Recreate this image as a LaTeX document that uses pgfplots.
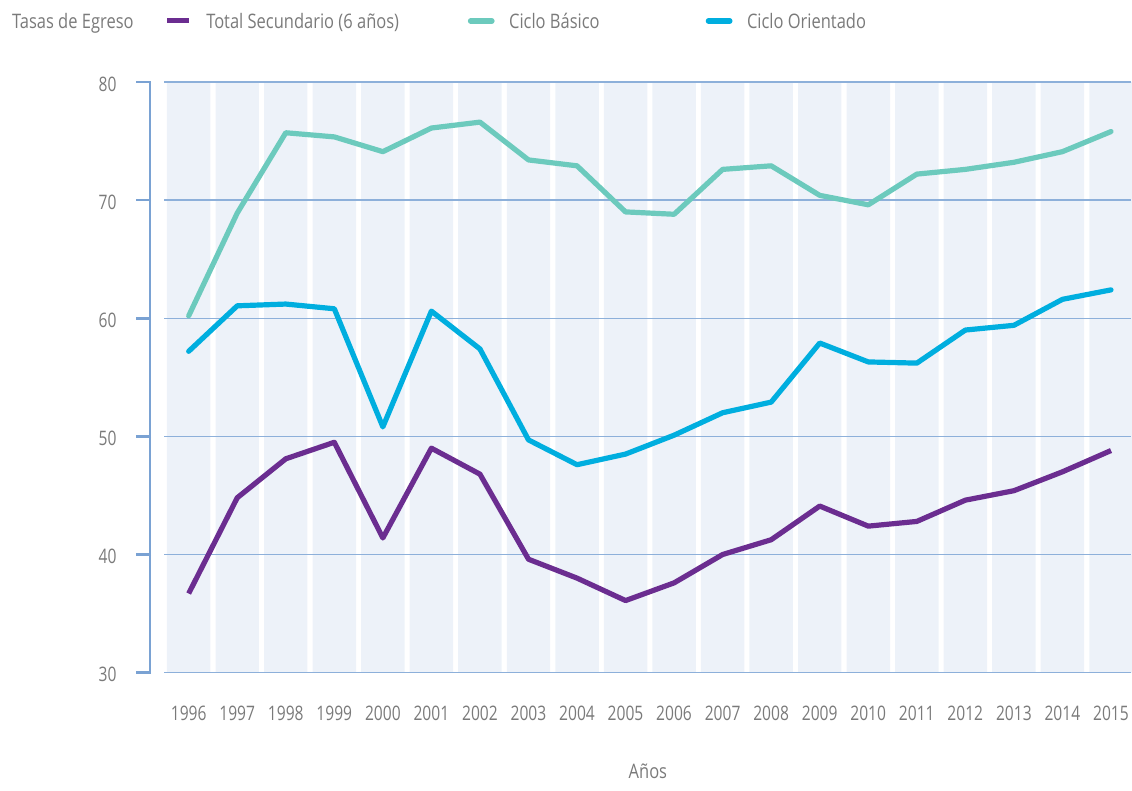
\documentclass[border=0pt]{standalone}
\usepackage{fontspec}
\setmainfont{Open Sans}[FakeStretch=0.78]
\newfontfamily\lfont{Open Sans}[FakeStretch=0.825]
\usepackage{pgfplots}
\usepackage{pgfplotstable}
\pgfplotsset{compat=1.18}
\definecolor{cpurple}{HTML}{6B2D90}
\definecolor{cteal}{HTML}{6CCABD}
\definecolor{cblue}{HTML}{00AEDF}
\definecolor{cbg}{HTML}{EDF2F9}
\definecolor{cgrid}{HTML}{8DB0DA}
\definecolor{caxis}{HTML}{7AA2D3}
\definecolor{ctext}{HTML}{7A7A7A}
\pgfplotstableread{
year tot bas ori
1996 36.7 60.2 57.2
1997 44.8 68.9 61.05
1998 48.1 75.7 61.2
1999 49.5 75.35 60.8
2000 41.4 74.1 50.8
2001 49.0 76.1 60.6
2002 46.8 76.6 57.4
2003 39.6 73.4 49.7
2004 38.0 72.9 47.6
2005 36.1 69.0 48.5
2006 37.6 68.8 50.1
2007 40.0 72.6 52.0
2008 41.25 72.9 52.9
2009 44.1 70.4 57.9
2010 42.4 69.6 56.3
2011 42.8 72.2 56.2
2012 44.6 72.6 59.0
2013 45.4 73.2 59.4
2014 47.0 74.1 61.6
2015 48.8 75.8 62.4
}\datatable
\begin{document}
\begin{tikzpicture}[font=\fontsize{10}{12}\selectfont, text=ctext]
\path (-82.25pt,-59pt) rectangle (483.75pt,336.5pt);
\begin{axis}[
  set layers=standard,
  scale only axis, width=483.75pt, height=295.5pt,
  xmin=1995.5, xmax=2015.42, ymin=30, ymax=80,
  axis line style={draw=none},
  major tick length=0pt,
  xtick={1996,...,2015}, ytick={30,40,...,80},
  ymajorgrids, grid style={cgrid, line width=0.6pt},
  xticklabel={\pgfmathprintnumber[assume math mode=true, 1000 sep={}]{\tick}},
  yticklabel={\pgfmathprintnumber[assume math mode=true]{\tick}},
  xticklabel style={anchor=base, yshift=-24pt, inner sep=0pt, text=ctext},
  yticklabel style={anchor=east, xshift=-23.75pt, yshift=-1pt, inner sep=0pt, text=ctext},
  xlabel={\lfont Años},
  xlabel style={at={(axis description cs:0.5,0)}, anchor=base, yshift=-53pt, inner sep=0pt, text=ctext},
]
\addplot[ybar, bar width=0.895, fill=cbg, draw=none, on layer=axis background] coordinates {
(1996,80) (1997,80) (1998,80) (1999,80) (2000,80) (2001,80) (2002,80) (2003,80) (2004,80) (2005,80)
(2006,80) (2007,80) (2008,80) (2009,80) (2010,80) (2011,80) (2012,80) (2013,80) (2014,80) (2015,80)};
\addplot[cteal, line width=2.6pt, line join=round, line cap=round] table[x=year, y=bas] {\datatable};
\addplot[cblue, line width=2.6pt, line join=round, line cap=round] table[x=year, y=ori] {\datatable};
\addplot[cpurple, line width=2.6pt, line join=round] table[x=year, y=tot] {\datatable};
\end{axis}
% y axis bracket
\draw[caxis, line width=1.3pt] (-7.25pt,0) -- (-7.25pt,295.5pt);
\foreach \k in {0,...,5} \draw[caxis, line width=1.3pt] (-6.6pt,\k*59.1pt) -- (-14.25pt,\k*59.1pt);
% legend / title
\node[anchor=base west, inner sep=0pt, font=\lfont] at (-76.4pt,322pt) {Tasas de Egreso};
\fill[cpurple] (1.4pt,324.75pt) rectangle (12.25pt,327.25pt);
\node[anchor=base west, inner sep=0pt, font=\lfont] at (20.75pt,322pt) {Total Secundario (6 años)};
\draw[cteal, line width=2.8pt, line cap=round] (153.2pt,326pt) -- (163.8pt,326pt);
\node[anchor=base west, inner sep=0pt, font=\lfont] at (172.25pt,322pt) {Ciclo Básico};
\draw[cblue, line width=2.8pt, line cap=round] (272.2pt,326pt) -- (282.8pt,326pt);
\node[anchor=base west, inner sep=0pt, font=\lfont] at (291.25pt,322pt) {Ciclo Orientado};
\end{tikzpicture}
\end{document}
